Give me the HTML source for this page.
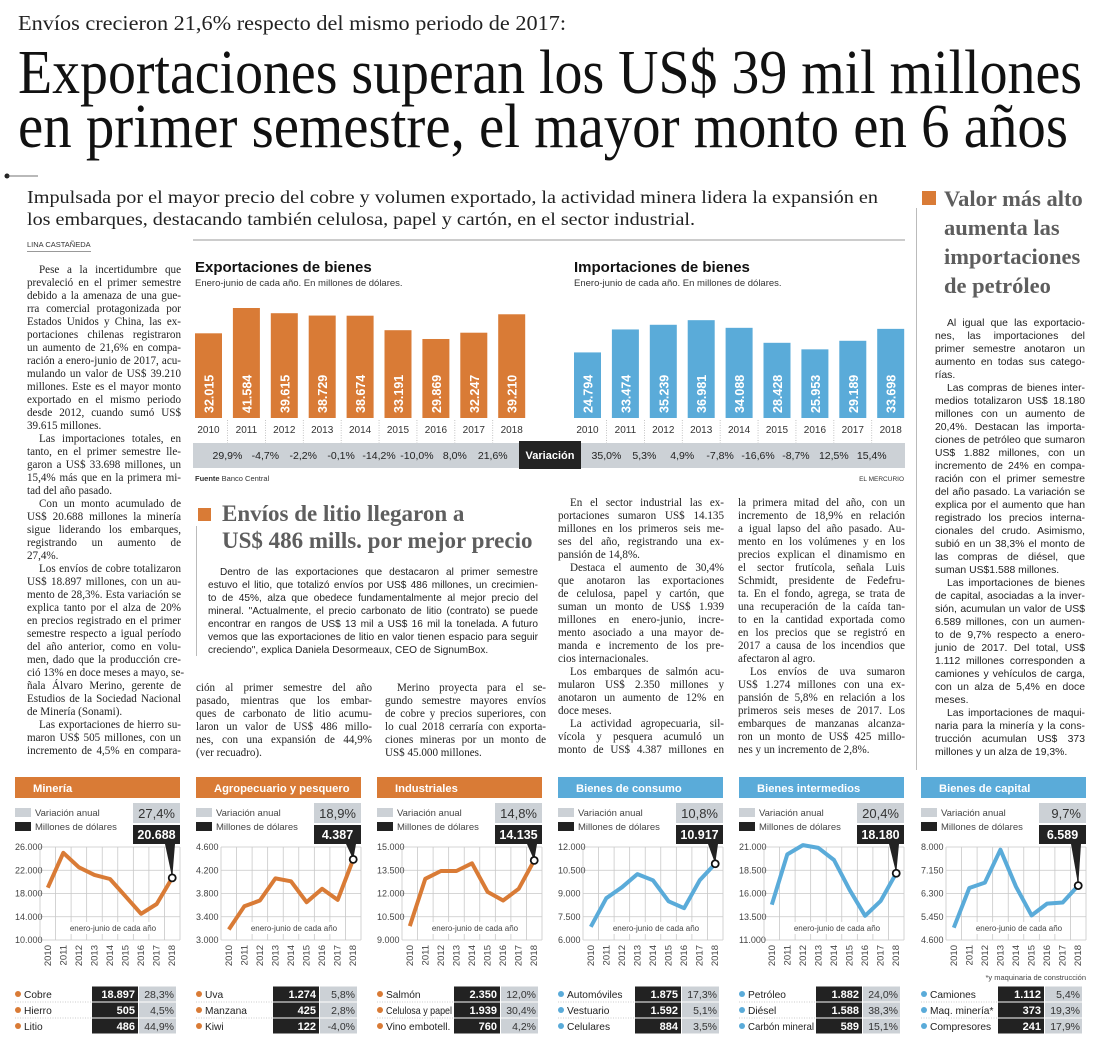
<!DOCTYPE html>
<html lang="es"><head><meta charset="utf-8">
<style>
*{margin:0;padding:0;box-sizing:border-box}
body{width:1100px;height:1050px;background:#fff;position:relative;overflow:hidden;font-family:"Liberation Serif",serif;color:#222}
.abs{position:absolute}
.col{position:absolute;font-family:"Liberation Serif",serif;font-size:11.1px;line-height:13px;color:#222}
.col div{white-space:nowrap;text-align:justify;text-align-last:justify}
.col div.e{text-align-last:left}
.col div.i{text-indent:12px}
.sans{font-family:"Liberation Sans",sans-serif;font-size:10.4px;line-height:13px;color:#222}
.hd{font-family:"Liberation Serif",serif;font-weight:bold;color:#5e5e5e}
</style></head><body>

<svg class="abs" style="left:0;top:0" width="1100" height="235">
  <text x="18" y="30" font-family="Liberation Serif" font-size="21" fill="#222" textLength="548" lengthAdjust="spacingAndGlyphs">Envíos crecieron 21,6% respecto del mismo periodo de 2017:</text>
  <text x="18" y="93" font-family="Liberation Serif" font-size="62" fill="#111" textLength="1064" lengthAdjust="spacingAndGlyphs">Exportaciones superan los US$ 39 mil millones</text>
  <text x="18" y="147" font-family="Liberation Serif" font-size="62" fill="#111" textLength="1050" lengthAdjust="spacingAndGlyphs">en primer semestre, el mayor monto en 6 años</text>
  <circle cx="7" cy="176" r="2.5" fill="#222"/>
  <line x1="7" y1="176" x2="38" y2="176" stroke="#444" stroke-width="0.8"/>
  <text x="27" y="203" font-family="Liberation Serif" font-size="18" fill="#222" textLength="851" lengthAdjust="spacingAndGlyphs">Impulsada por el mayor precio del cobre y volumen exportado, la actividad minera lidera la expansión en</text>
  <text x="27" y="225" font-family="Liberation Serif" font-size="18" fill="#222" textLength="668" lengthAdjust="spacingAndGlyphs">los embarques, destacando también celulosa, papel y cartón, en el sector industrial.</text>
</svg>
<div class="abs" style="left:27px;top:240px;font-family:'Liberation Sans',sans-serif;font-size:7.5px;color:#333;border-bottom:1px solid #999;padding-bottom:2px">LINA CASTAÑEDA</div>
<div class="abs" style="left:193px;top:239px;width:712px;height:2px;background:#ccc"></div>

<div class="col" style="left:27px;top:264px;width:154px">
<div class="i">Pese a la incertidumbre que</div><div>prevaleció en el primer semestre</div><div>debido a la amenaza de una gue-</div><div>rra comercial protagonizada por</div><div>Estados Unidos y China, las ex-</div><div>portaciones chilenas registraron</div><div>un aumento de 21,6% en compa-</div><div>ración a enero-junio de 2017, acu-</div><div>mulando un valor de US$ 39.210</div><div>millones. Este es el mayor monto</div><div>exportado en el mismo periodo</div><div>desde 2012, cuando sumó US$</div><div class="e">39.615 millones.</div>
<div class="i">Las importaciones totales, en</div><div>tanto, en el primer semestre lle-</div><div>garon a US$ 33.698 millones, un</div><div>15,4% más que en la primera mi-</div><div class="e">tad del año pasado.</div>
<div class="i">Con un monto acumulado de</div><div>US$ 20.688 millones la minería</div><div>sigue liderando los embarques,</div><div>registrando un aumento de</div><div class="e">27,4%.</div>
<div class="i">Los envíos de cobre totalizaron</div><div>US$ 18.897 millones, con un au-</div><div>mento de 28,3%. Esta variación se</div><div>explica tanto por el alza de 20%</div><div>en precios registrado en el primer</div><div>semestre respecto a igual período</div><div>del año anterior, como en volu-</div><div>men, dado que la producción cre-</div><div>ció 13% en doce meses a mayo, se-</div><div>ñala Álvaro Merino, gerente de</div><div>Estudios de la Sociedad Nacional</div><div class="e">de Minería (Sonami).</div>
<div class="i">Las exportaciones de hierro su-</div><div>maron US$ 505 millones, con un</div><div>incremento de 4,5% en compara-</div>
</div>

<svg class="abs" id="bars" style="left:0;top:0" width="1100" height="490"></svg>

<div class="abs" style="left:198px;top:508px;width:13px;height:13px;background:#d97b36"></div>
<div class="abs" style="left:196px;top:526px;width:1px;height:130px;background:#bbb"></div>
<div class="abs hd" style="left:222px;top:500px;font-size:23px;line-height:27px;white-space:nowrap">Envíos de litio llegaron a<br>US$ 486 mills. por mejor precio</div>
<div class="col sans" style="left:208px;top:566px;width:330px;font-size:10.1px">
<div class="i">Dentro de las exportaciones que destacaron al primer semestre</div><div>estuvo el litio, que totalizó envíos por US$ 486 millones, un crecimien-</div><div>to de 45%, alza que obedece fundamentalmente al mejor precio del</div><div>mineral. "Actualmente, el precio carbonato de litio (contrato) se puede</div><div>encontrar en rangos de US$ 13 mil a US$ 16 mil la tonelada. A futuro</div><div>vemos que las exportaciones de litio en valor tienen espacio para seguir</div><div class="e">creciendo", explica Daniela Desormeaux, CEO de SignumBox.</div>
</div>

<div class="col" style="left:196px;top:682px;width:176px">
<div>ción al primer semestre del año</div><div>pasado, mientras que los embar-</div><div>ques de carbonato de litio acumu-</div><div>laron un valor de US$ 486 millo-</div><div>nes, con una expansión de 44,9%</div><div class="e">(ver recuadro).</div>
</div>
<div class="col" style="left:385px;top:682px;width:161px">
<div class="i">Merino proyecta para el se-</div><div>gundo semestre mayores envíos</div><div>de cobre y precios superiores, con</div><div>lo cual 2018 cerraría con exporta-</div><div>ciones mineras por un monto de</div><div class="e">US$ 45.000 millones.</div>
</div>
<div class="col" style="left:558px;top:497px;width:166px">
<div class="i">En el sector industrial las ex-</div><div>portaciones sumaron US$ 14.135</div><div>millones en los primeros seis me-</div><div>ses del año, registrando una ex-</div><div class="e">pansión de 14,8%.</div>
<div class="i">Destaca el aumento de 30,4%</div><div>que anotaron las exportaciones</div><div>de celulosa, papel y cartón, que</div><div>suman un monto de US$ 1.939</div><div>millones en enero-junio, incre-</div><div>mento asociado a una mayor de-</div><div>manda e incremento de los pre-</div><div class="e">cios internacionales.</div>
<div class="i">Los embarques de salmón acu-</div><div>mularon US$ 2.350 millones y</div><div>anotaron un aumento de 12% en</div><div class="e">doce meses.</div>
<div class="i">La actividad agropecuaria, sil-</div><div>vícola y pesquera acumuló un</div><div>monto de US$ 4.387 millones en</div>
</div>
<div class="col" style="left:738px;top:497px;width:167px">
<div>la primera mitad del año, con un</div><div>incremento de 18,9% en relación</div><div>a igual lapso del año pasado. Au-</div><div>mento en los volúmenes y en los</div><div>precios explican el dinamismo en</div><div>el sector frutícola, señala Luis</div><div>Schmidt, presidente de Fedefru-</div><div>ta. En el fondo, agrega, se trata de</div><div>una recuperación de la caída tan-</div><div>to en la cantidad exportada como</div><div>en los precios que se registró en</div><div>2017 a causa de los incendios que</div><div class="e">afectaron al agro.</div>
<div class="i">Los envíos de uva sumaron</div><div>US$ 1.274 millones con una ex-</div><div>pansión de 5,8% en relación a los</div><div>primeros seis meses de 2017. Los</div><div>embarques de manzanas alcanza-</div><div>ron un monto de US$ 425 millo-</div><div class="e">nes y un incremento de 2,8%.</div>
</div>

<div class="abs" style="left:916px;top:208px;width:1px;height:562px;background:#bbb"></div>
<div class="abs" style="left:922px;top:191px;width:14px;height:14px;background:#d97b36"></div>
<div class="abs hd" style="left:944px;top:184px;font-size:22.5px;line-height:29px;white-space:nowrap">Valor más alto<br>aumenta las<br>importaciones<br>de petróleo</div>
<div class="col sans" style="left:935px;top:317px;width:150px;font-size:10.4px">
<div class="i">Al igual que las exportacio-</div><div>nes, las importaciones del</div><div>primer semestre anotaron un</div><div>aumento en todas sus catego-</div><div class="e">rías.</div>
<div class="i">Las compras de bienes inter-</div><div>medios totalizaron US$ 18.180</div><div>millones con un aumento de</div><div>20,4%. Destacan las importa-</div><div>ciones de petróleo que sumaron</div><div>US$ 1.882 millones, con un</div><div>incremento de 24% en compa-</div><div>ración con el primer semestre</div><div>del año pasado. La variación se</div><div>explica por el aumento que han</div><div>registrado los precios interna-</div><div>cionales del crudo. Asimismo,</div><div>subió en un 38,3% el monto de</div><div>las compras de diésel, que</div><div class="e">suman US$1.588 millones.</div>
<div class="i">Las importaciones de bienes</div><div>de capital, asociadas a la inver-</div><div>sión, acumulan un valor de US$</div><div>6.589 millones, con un aumen-</div><div>to de 9,7% respecto a enero-</div><div>junio de 2017. Del total, US$</div><div>1.112 millones corresponden a</div><div>camiones y vehículos de carga,</div><div>con un alza de 5,4% en doce</div><div class="e">meses.</div>
<div class="i">Las importaciones de maqui-</div><div>naria para la minería y la cons-</div><div>trucción acumulan US$ 373</div><div class="e">millones y un alza de 19,3%.</div>
</div>

<svg class="abs" id="panels" style="left:0;top:770px" width="1100" height="280"></svg>

<script>
const barYears = ["2010","2011","2012","2013","2014","2015","2016","2017","2018"];
const exportValues = [32015,41584,39615,38729,38674,33191,29869,32247,39210];
const importValues = [24794,33474,35239,36981,34088,28428,25953,29189,33698];
const exportVar = ["29,9%","-4,7%","-2,2%","-0,1%","-14,2%","-10,0%","8,0%","21,6%"];
const importVar = ["35,0%","5,3%","4,9%","-7,8%","-16,6%","-8,7%","12,5%","15,4%"];

const panelTitles = ["Minería","Agropecuario y pesquero","Industriales","Bienes de consumo","Bienes intermedios","Bienes de capital"];
const panelVar = ["27,4%","18,9%","14,8%","10,8%","20,4%","9,7%"];
const panelTotal = ["20.688","4.387","14.135","10.917","18.180","6.589"];
const seriesMineria = [19000,25000,22500,21200,20500,17500,14500,16200,20688];
const seriesAgro = [3180,3580,3680,4060,4010,3650,3880,3690,4387];
const seriesIndustriales = [9900,12950,13450,13450,13950,12100,11550,12300,14135];
const seriesConsumo = [6850,8700,9400,10250,9850,8500,8050,9850,10917];
const seriesIntermedios = [14800,20200,21200,20900,19600,16400,13600,15200,18180];
const seriesCapital = [5050,6500,6700,7900,6550,5500,5930,5970,6589];
const ticksMineria = [10000,14000,18000,22000,26000];
const ticksAgro = [3000,3400,3800,4200,4600];
const ticksIndustriales = [9000,10500,12000,13500,15000];
const ticksConsumo = [6000,7500,9000,10500,12000];
const ticksIntermedios = [11000,13500,16000,18500,21000];
const ticksCapital = [4600,5450,6300,7150,8000];
const rowNames = [["Cobre","Hierro","Litio"],["Uva","Manzana","Kiwi"],["Salmón","Celulosa y papel","Vino embotell."],["Automóviles","Vestuario","Celulares"],["Petróleo","Diésel","Carbón mineral"],["Camiones","Maq. minería*","Compresores"]];
const rowValues = [["18.897","505","486"],["1.274","425","122"],["2.350","1.939","760"],["1.875","1.592","884"],["1.882","1.588","589"],["1.112","373","241"]];
const rowVar = [["28,3%","4,5%","44,9%"],["5,8%","2,8%","-4,0%"],["12,0%","30,4%","4,2%"],["17,3%","5,1%","3,5%"],["24,0%","38,3%","15,1%"],["5,4%","19,3%","17,9%"]];

const NS="http://www.w3.org/2000/svg";
function mk(parent,tag,attrs,text){const e=document.createElementNS(NS,tag);for(const k in attrs)e.setAttribute(k,attrs[k]);if(text!==undefined)e.textContent=text;parent.appendChild(e);return e;}
const ORANGE="#d97b36", BLUE="#5aabd9";

const bars=document.getElementById('bars');
const baseY=418, pxPer=110/41584;
function barY(v){return baseY - v*pxPer;}
function drawBars(x0,vals,vars,color,title,nm){
  const step=37.9,bw=27;
  let t=mk(bars,'text',{x:x0,y:272,'font-family':'Liberation Sans','font-weight':'bold','font-size':15,fill:'#111'},title);
  
  
  t=mk(bars,'text',{x:x0,y:286,'font-family':'Liberation Sans','font-size':9.5,fill:'#333'},"Enero-junio de cada año. En millones de dólares.");
  
  
  vals.forEach((v,i)=>{
    const x=x0+i*step;
    const r=mk(bars,'rect',{x:x,y:barY(v),width:bw,height:baseY-barY(v),fill:color});
    
    
    const lbl=(v/1000).toFixed(3);
    const tx=mk(bars,'text',{x:0,y:0,transform:`translate(${x+bw/2+5},${baseY-5}) rotate(-90)`,'font-family':'Liberation Sans','font-weight':'bold','font-size':12.5,fill:'#fff'},lbl);
    
    
    const yl=mk(bars,'text',{x:x+bw/2,y:433,'text-anchor':'middle','font-family':'Liberation Sans','font-size':10,fill:'#333'},barYears[i]);
    
    
    if(i>0){mk(bars,'line',{x1:x-(step-bw)/2,y1:420,x2:x-(step-bw)/2,y2:443,stroke:'#aaa','stroke-width':0.7,'stroke-dasharray':'1,1.5'});}
  });
  vars.forEach((s,i)=>{
    const x=x0+(i+1)*step-(step-bw)/2;
    const vt=mk(bars,'text',{x:x,y:459,'text-anchor':'middle','font-family':'Liberation Sans','font-size':10.5,fill:'#222'},s);
    
    
  });
}
let band=mk(bars,'rect',{x:193,y:443,width:712,height:25,fill:'#ccd1d6'});


drawBars(195,exportValues,exportVar,ORANGE,"Exportaciones de bienes","exports");
drawBars(574,importValues,importVar,BLUE,"Importaciones de bienes","imports");
let vb=mk(bars,'rect',{x:519,y:441,width:62,height:28,fill:'#222'});


mk(bars,'text',{x:550,y:459,'text-anchor':'middle','font-family':'Liberation Sans','font-weight':'bold','font-size':11,fill:'#fff'},"Variación");
let src=mk(bars,'text',{x:195,y:481,'font-family':'Liberation Sans','font-size':7.5,fill:'#333'});
mk(src,'tspan',{'font-weight':'bold'},"Fuente");mk(src,'tspan',{},' Banco Central');


let em=mk(bars,'text',{x:904,y:481,'text-anchor':'end','font-family':'Liberation Sans','font-size':6.5,fill:'#333'},"EL MERCURIO");



const P=document.getElementById('panels');
const allSeries=[seriesMineria,seriesAgro,seriesIndustriales,seriesConsumo,seriesIntermedios,seriesCapital];
const allTicks=[ticksMineria,ticksAgro,ticksIndustriales,ticksConsumo,ticksIntermedios,ticksCapital];
const offsets=[15,196,377,558,739,921];
const F="Liberation Sans";
panelTitles.forEach((title,p)=>{
  const x0=offsets[p], color=p<3?ORANGE:BLUE, g=mk(P,'g',{});
  
  
  mk(g,'rect',{x:x0,y:7,width:165,height:21,fill:color});
  mk(g,'text',{x:x0+18,y:22,'font-family':F,'font-weight':'bold','font-size':11.2,fill:'#fff'},title);
  mk(g,'rect',{x:x0,y:38,width:16,height:9,fill:'#ccd1d6'});
  mk(g,'text',{x:x0+20,y:46,'font-family':F,'font-size':9.5,fill:'#444'},"Variación anual");
  mk(g,'rect',{x:x0,y:52,width:16,height:9,fill:'#222'});
  mk(g,'text',{x:x0+20,y:60,'font-family':F,'font-size':9.5,fill:'#444'},"Millones de dólares");
  mk(g,'rect',{x:x0+118,y:33,width:47,height:20,fill:'#ccd1d6'});
  mk(g,'text',{x:x0+160,y:48,'text-anchor':'end','font-family':F,'font-size':13,fill:'#333'},panelVar[p]);
  mk(g,'rect',{x:x0+118,y:55,width:47,height:19,fill:'#222'});
  mk(g,'text',{x:x0+141.5,y:69,'text-anchor':'middle','font-family':F,'font-weight':'bold','font-size':12.5,fill:'#fff'},panelTotal[p]);
  const L=x0+25,R=x0+165,T=77,B=170,ticks=allTicks[p],lo=ticks[0],hi=ticks[ticks.length-1];
  const yS=v=>B-(v-lo)/(hi-lo)*(B-T), cw=(R-L)/9, xS=i=>L+cw*(i+0.5);
  ticks.forEach(t=>{
    mk(g,'line',{x1:L,y1:yS(t),x2:R,y2:yS(t),stroke:'#c8c8c8','stroke-width':0.8});
    const tl=mk(g,'text',{x:x0,y:yS(t)+3,'font-family':F,'font-size':9,fill:'#444'},t.toLocaleString('de-DE'));
    
    
  });
  for(let i=0;i<=9;i++)mk(g,'line',{x1:L+cw*i,y1:T,x2:L+cw*i,y2:B,stroke:'#c8c8c8','stroke-width':0.8});
  mk(g,'rect',{x:L+28,y:152,width:86,height:12,fill:'#fff'});
  mk(g,'text',{x:(L+R)/2+3,y:161,'text-anchor':'middle','font-family':F,'font-size':8,fill:'#444'},"enero-junio de cada año");
  barYears.forEach((yr,i)=>{
    const yt=mk(g,'text',{x:0,y:0,transform:`translate(${xS(i)+3},${B+5}) rotate(-90)`,'text-anchor':'end','font-family':F,'font-size':9.5,fill:'#444'},yr);
    
    
  });
  const s=allSeries[p];
  const pts=s.map((v,i)=>xS(i).toFixed(1)+','+yS(v).toFixed(1)).join(' ');
  const ln=mk(g,'polyline',{points:pts,fill:'none',stroke:color,'stroke-width':4,'stroke-linejoin':'round'});
  
  
  const ex=xS(8),ey=yS(s[8]);
  mk(g,'polygon',{points:`${x0+150},74 ${x0+160},74 ${ex},${ey}`,fill:'#222'});
  mk(g,'line',{x1:x0+155,y1:74,x2:ex,y2:ey,stroke:'#222','stroke-width':1.5});
  const dot=mk(g,'circle',{cx:ex,cy:ey,r:3.5,fill:'#fff',stroke:'#111','stroke-width':1.8});
  
  
  rowNames[p].forEach((n,r)=>{
    const cy=224+r*16;
    const row=mk(g,'g',{});
    
    
    mk(row,'circle',{cx:x0+3,cy:cy,r:3,fill:color});
    const nt=mk(row,'text',{x:x0+9,y:cy+4,'font-family':F,'font-size':10.2,fill:'#222'},n);
    if(nt.getComputedTextLength()>66){nt.setAttribute('textLength','66');nt.setAttribute('lengthAdjust','spacingAndGlyphs');}
    mk(row,'rect',{x:x0+77,y:cy-7.5,width:46,height:15,fill:'#222'});
    mk(row,'text',{x:x0+120,y:cy+4,'text-anchor':'end','font-family':F,'font-weight':'bold','font-size':11,fill:'#fff'},rowValues[p][r]);
    mk(row,'rect',{x:x0+124,y:cy-7.5,width:37,height:15,fill:'#ccd1d6'});
    mk(row,'text',{x:x0+159,y:cy+4,'text-anchor':'end','font-family':F,'font-size':10.5,fill:'#333'},rowVar[p][r]);
    if(r<2)mk(row,'line',{x1:x0,y1:cy+8,x2:x0+77,y2:cy+8,stroke:'#999','stroke-width':0.6,'stroke-dasharray':'1,1.5'});
  });
});
let fn=mk(P,'text',{x:1086,y:210,'text-anchor':'end','font-family':F,'font-size':7.5,fill:'#444'},"*y maquinaria de construcción");


</script>
</body></html>
